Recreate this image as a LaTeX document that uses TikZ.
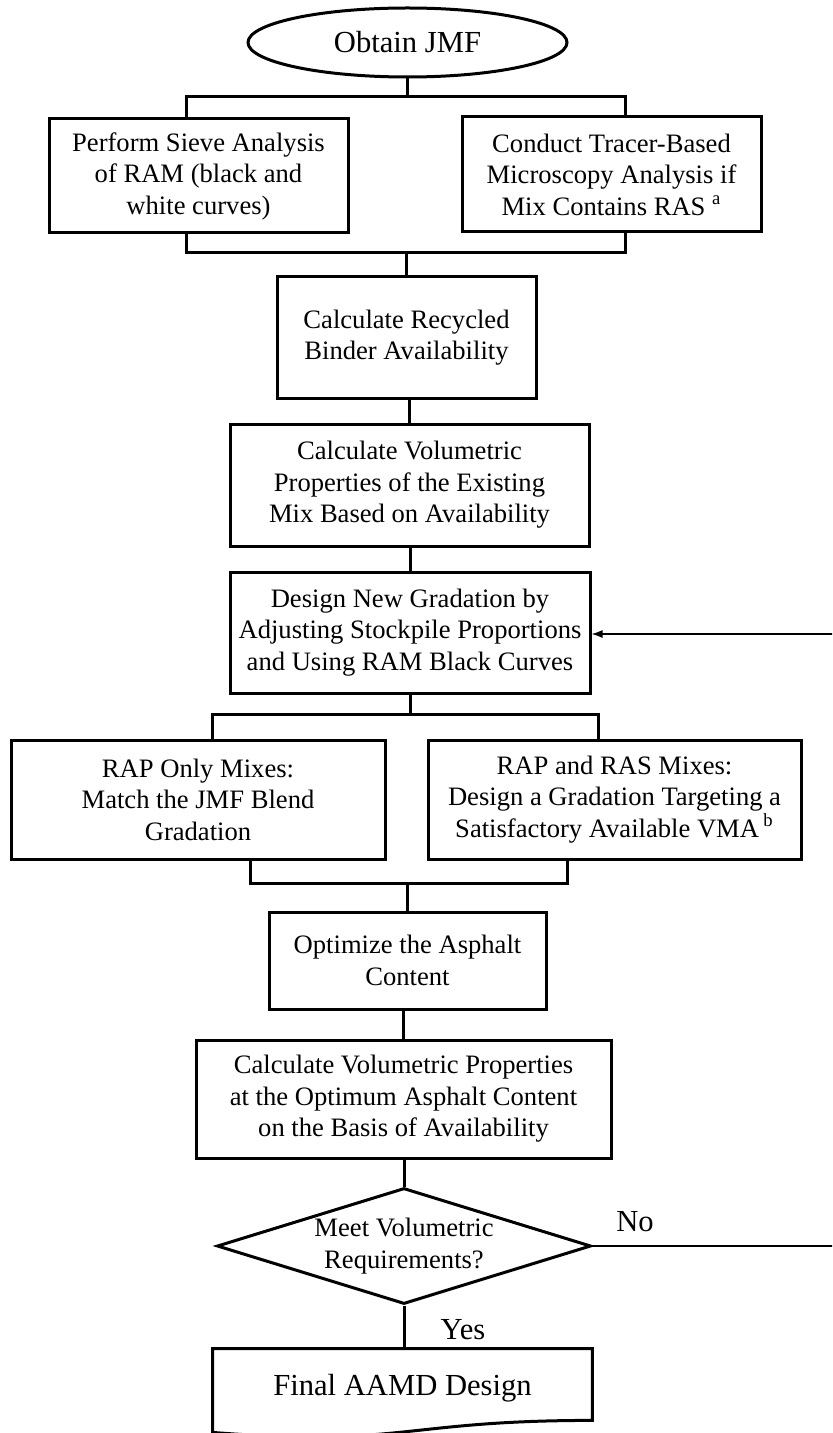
\documentclass[tikz,border=0pt]{standalone}
\usepackage{fontspec}
\setmainfont{Liberation Serif}
\usetikzlibrary{shapes.geometric,arrows.meta}

\begin{document}
\begin{tikzpicture}[x=0.5pt, y=-0.5pt]
	% Define the styles for the nodes and lines
	\tikzstyle{every node}=[inner sep=0pt, align=center, font=\fontsize{13.3pt}{15.75pt}\selectfont]
	\tikzstyle{box}=[rectangle, draw, line width=1.5pt]
	\tikzstyle{bigtext}=[font=\fontsize{15.3pt}{18pt}\selectfont]
	\tikzstyle{link}=[line width=1.5pt]
	\tikzstyle{back}=[line width=0.7pt]

	% Fix the page to the size of the picture
	\useasboundingbox (0, 0) rectangle (832, 1433); \clip (0, 0) rectangle (832, 1433);

	% Nodes definition
	\node (start) at (407.5, 42.5) [ellipse, draw, line width=1.5pt, bigtext, minimum width=159.5pt, minimum height=34.5pt] {Obtain JMF};
	\node (sieve) at (198.5, 176) [box, minimum width=149.5pt, minimum height=57pt] {Perform Sieve Analysis\\of RAM (black and\\white curves)};
	\node (tracer) at (611.5, 174.5) [box, minimum width=149.5pt, minimum height=57.5pt] {Conduct Tracer-Based\\Microscopy Analysis if\\Mix Contains RAS \textsuperscript{a}};
	\node (recyc) at (406.5, 337.5) [box, minimum width=129.5pt, minimum height=60.5pt] {Calculate Recycled\\Binder Availability};
	\node (volexist) at (409.5, 485) [box, minimum width=179.5pt, minimum height=61pt] {Calculate Volumetric\\Properties of the Existing\\Mix Based on Availability};
	\node (design) at (410, 632.5) [box, minimum width=180pt, minimum height=60.5pt] {Design New Gradation by\\Adjusting Stockpile Proportions\\and Using RAM Black Curves};
	\node (raponly) at (198, 799.5) [box, minimum width=187pt, minimum height=59.5pt] {RAP Only Mixes:\\Match the JMF Blend\\Gradation};
	\node (rapras) at (614.5, 799.5) [box, minimum width=186.5pt, minimum height=59.5pt] {RAP and RAS Mixes:\\Design a Gradation Targeting a\\Satisfactory Available VMA\,\textsuperscript{b}};
	\node (optim) at (407.5, 960.5) [box, minimum width=138.5pt, minimum height=48.5pt] {Optimize the Asphalt\\Content};
	\node (volopt) at (403.5, 1099) [box, minimum width=207.5pt, minimum height=59pt] {Calculate Volumetric Properties\\at the Optimum Asphalt Content\\on the Basis of Availability};
	\node (check) at (404, 1246) [diamond, draw, line width=1.5pt, aspect=3.2, minimum width=187pt, minimum height=58pt] {Meet Volumetric\\Requirements?};
	\node (final) at (402.5, 1388) [bigtext, minimum width=189.5pt, minimum height=39pt] {Final AAMD Design};
	\node (nolbl) at (635, 1222) [bigtext] {No}; \node (yeslbl) at (463, 1330) [bigtext] {Yes};

	% Corners of the split and merge lines
	\coordinate (tl) at (186, 97); \coordinate (tr) at (625, 97); \coordinate (bl) at (186, 253); \coordinate (br) at (625, 253);
	\coordinate (ml) at (212, 714); \coordinate (mr) at (598, 714); \coordinate (nl) at (250, 883); \coordinate (nr) at (567, 883);
	\coordinate (loop) at (845, 634);

	% Draw the document shape of the last step
	\draw[link] ([yshift=-2.5pt]final.south west) -- (final.north west) -- (final.north east) -- ([yshift=3.5pt]final.south east)
	.. controls ([yshift=3.5pt]final.south) and ([yshift=-10pt]final.south) .. ([yshift=-2.5pt]final.south west) -- cycle;

	% Draw the connecting lines
	\draw[link] (start) -- (start |- tl); \draw[link] (sieve.north -| tl) -- (tl) -- (tr) -- (tracer.north -| tr);
	\draw[link] (sieve.south -| bl) -- (bl) -- (br) -- (tracer.south -| br); \draw[link] (recyc) -- (recyc |- bl);
	\draw[link] (volexist.north) -- (volexist.north |- recyc.south); \draw[link] (design.north) -- (design.north |- volexist.south);
	\draw[link] (design) -- (design |- ml); \draw[link] (raponly.north -| ml) -- (ml) -- (mr) -- (rapras.north -| mr);
	\draw[link] (raponly.south -| nl) -- (nl) -- (nr) -- (rapras.south -| nr); \draw[link] (optim) -- (optim |- nl);
	\draw[link] (volopt.north) -- (volopt.north |- optim.south); \draw[link] (check) -- (check |- volopt.south);
	\draw[link] (check.south) -- (check.south |- final.north);

	% Draw the loop back for a failed check
	\draw[back, -{Latex[length=5.5pt, width=4pt]}] (check.east) -- (check.east -| loop) -- (loop) -- (loop -| design.east);
\end{tikzpicture}
\end{document}
